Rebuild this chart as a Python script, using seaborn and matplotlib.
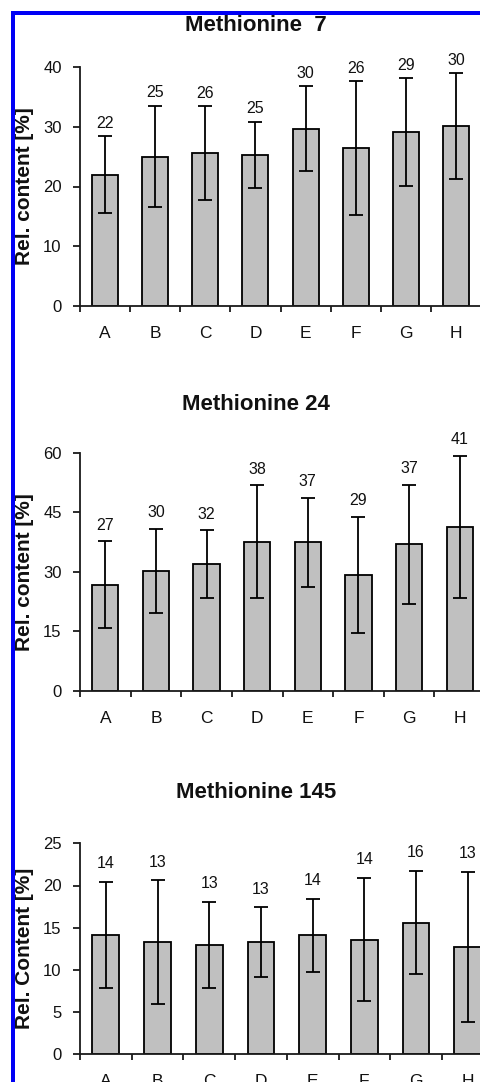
import numpy as np
import matplotlib
matplotlib.use("Agg")
import matplotlib.pyplot as plt
import seaborn as sns
from matplotlib.patches import Rectangle

# Groups on the x axis
groups = ["A", "B", "C", "D", "E", "F", "G", "H"]

# Methionine 7: mean relative content and standard deviation [%]
met7_mean = [22.0, 25.0, 25.6, 25.3, 29.7, 26.4, 29.1, 30.1]
met7_sd = [6.4, 8.5, 7.8, 5.5, 7.1, 11.2, 9.0, 8.9]

# Methionine 24
met24_mean = [26.8, 30.2, 32.0, 37.6, 37.4, 29.2, 36.9, 41.3]
met24_sd = [10.9, 10.6, 8.5, 14.2, 11.2, 14.7, 15.0, 17.9]

# Methionine 145
met145_mean = [14.1, 13.3, 13.0, 13.3, 14.1, 13.6, 15.6, 12.7]
met145_sd = [6.3, 7.3, 5.1, 4.1, 4.3, 7.3, 6.1, 8.9]

titles = ["Methionine  7", "Methionine 24", "Methionine 145"]
ylabels = ["Rel. content [%]", "Rel. content [%]", "Rel. Content [%]"]
yticks = [[0, 10, 20, 30, 40], [0, 15, 30, 45, 60], [0, 5, 10, 15, 20, 25]]

sns.set_theme(style="white")
plt.rcParams["font.family"] = ["Liberation Sans", "DejaVu Sans"]

W, H = 481, 1082
fig = plt.figure(figsize=(W / 100, H / 100), dpi=100)

# axes boxes in pixels: left, top, width, bottom
boxes = [(80, 67, 401, 306), (80, 452.7, 405, 691), (80, 843.3, 413.6, 1054.3)]
title_base = [30.7, 410, 798.3]
label_gap = [6.1, 8.3, 10.0]
ink = "#1a1a1a"

panels = [(met7_mean, met7_sd), (met24_mean, met24_sd), (met145_mean, met145_sd)]

for i, ((means, sds), (lx, ty, wd, by)) in enumerate(zip(panels, boxes)):
    ax = fig.add_axes([lx / W, 1 - by / H, wd / W, (by - ty) / H])
    sns.barplot(x=groups, y=means, ax=ax, color="#c0c0c0", saturation=1,
                edgecolor="black", linewidth=1.3, width=0.52, errorbar=None)
    xs = np.arange(len(groups))
    ax.errorbar(xs, means, yerr=sds, fmt="none", ecolor="black",
                elinewidth=1.3, capsize=5, capthick=1.3, zorder=3)
    for x, m, s in zip(xs, means, sds):
        ax.annotate(f"{m:.0f}", xy=(x, m + s), xytext=(0, label_gap[i]),
                    textcoords="offset points", ha="center", va="baseline",
                    fontsize=11.5, color="#111111")

    ax.set_xlim(-0.5, len(groups) - 0.5)
    ax.set_ylim(0, yticks[i][-1])
    ax.set_yticks(yticks[i])
    ax.set_xticks(xs)
    ax.set_xticks(np.arange(-0.5, len(groups)), minor=True)
    ax.set_xticklabels(groups)
    ax.set_xlabel("")
    ax.set_ylabel("")

    for side in ["top", "right"]:
        ax.spines[side].set_visible(False)
    for side in ["left", "bottom"]:
        ax.spines[side].set_color(ink)
        ax.spines[side].set_linewidth(1.3)
    ax.tick_params(axis="y", which="major", direction="out", length=4.7,
                   width=1.3, color=ink, pad=8.5, labelsize=12, labelcolor="#111111",
                   left=True)
    ax.tick_params(axis="x", which="major", length=0, pad=14.5,
                   labelsize=12.5, labelcolor="#111111")
    ax.tick_params(axis="x", which="minor", direction="out", length=4.5,
                   width=1.3, color=ink, bottom=True)
    ax.grid(False)

    fig.text(256 / W, 1 - title_base[i] / H, titles[i], ha="center",
             va="baseline", fontsize=16, fontweight="bold", color="#111111")
    fig.text(24.5 / W, 1 - ((ty + by) / 2) / H, ylabels[i], rotation=90,
             ha="center", va="center", fontsize=15, fontweight="bold",
             color="#111111")

# frame: white margin with a blue rule along the top and left edges
def px_rect(x0, y0, x1, y1, color):
    fig.add_artist(Rectangle((x0 / W, 1 - y1 / H), (x1 - x0) / W, (y1 - y0) / H,
                             transform=fig.transFigure, facecolor=color,
                             edgecolor="none", zorder=10))

px_rect(0, 0, 11, H, "white")
px_rect(0, 0, W, 11, "white")
px_rect(11, 11, 15, H, "#0000f5")
px_rect(11, 11, W, 15, "#0000f5")

fig.savefig("out.png", dpi=100)
